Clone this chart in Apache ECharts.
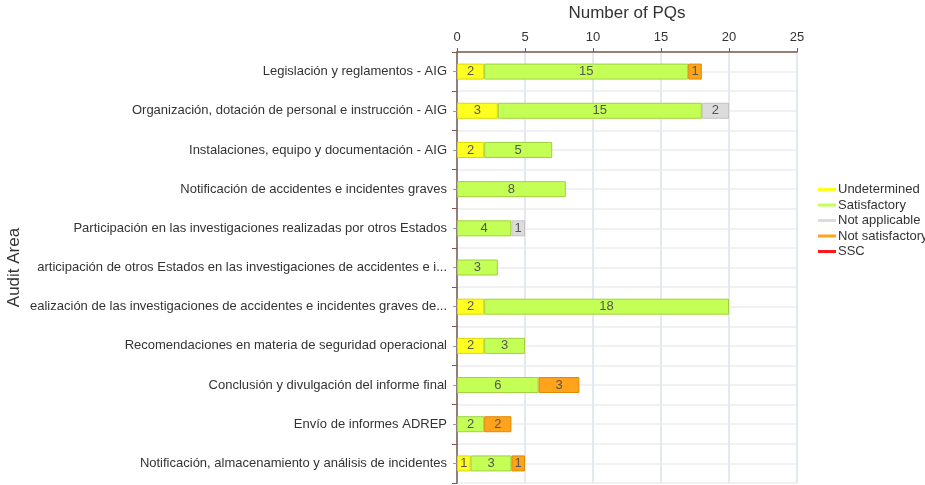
<!DOCTYPE html>
<html>
<head>
<meta charset="utf-8">
<script src="https://cdn.jsdelivr.net/npm/echarts@6/dist/echarts.min.js"></script>
<style>
html, body { margin: 0; padding: 0; background: #fff; }
#root { width: 925px; height: 485px; }
</style>
</head>
<body>
<div id="root"></div>
<script>
var areas = [
    'Legislación y reglamentos - AIG',
    'Organización, dotación de personal e instrucción - AIG',
    'Instalaciones, equipo y documentación - AIG',
    'Notificación de accidentes e incidentes graves',
    'Participación en las investigaciones realizadas por otros Estados',
    'articipación de otros Estados en las investigaciones de accidentes e i...',
    'ealización de las investigaciones de accidentes e incidentes graves de...',
    'Recomendaciones en materia de seguridad operacional',
    'Conclusión y divulgación del informe final',
    'Envío de informes ADREP',
    'Notificación, almacenamiento y análisis de incidentes'
];
var undetermined = [2, 3, 2, null, null, null, 2, 2, null, null, 1];
var satisfactory = [15, 15, 5, 8, 4, 3, 18, 3, 6, 2, 3];
var notApplicable = [null, 2, null, null, 1, null, null, null, null, null, null];
var notSatisfactory = [1, null, null, null, null, null, null, null, 3, 2, 1];
var ssc = [null, null, null, null, null, null, null, null, null, null, null];
var xTicks = [0, 25, 5];

var font = 'Liberation Sans, Arial, sans-serif';

function makeSeries(name, data, color, border) {
    return {
        name: name,
        type: 'bar',
        stack: 'pq',
        data: data,
        barWidth: 16,
        itemStyle: { color: color, borderColor: border, borderWidth: 1 },
        label: {
            show: true,
            position: 'inside',
            color: '#555',
            fontSize: 13,
            fontFamily: font
        }
    };
}

var chart = echarts.init(document.getElementById('root'));
var option = {
    animation: false,
    textStyle: { fontFamily: font },
    grid: { left: 457, right: 128, top: 52, bottom: 2, outerBoundsMode: 'none', containLabel: false },
    legend: {
        orient: 'vertical',
        left: 813,
        top: 178,
        itemWidth: 18,
        itemHeight: 13,
        itemGap: 2.5,
        icon: 'path://M0,5 L18,5 L18,8 L0,8 Z',
        itemStyle: { borderWidth: 0 },
        textStyle: { color: '#333', fontSize: 13, fontFamily: font, padding: [0, 0, 0, -3] },
        data: ['Undetermined', 'Satisfactory', 'Not applicable', 'Not satisfactory', 'SSC']
    },
    xAxis: {
        type: 'value',
        position: 'top',
        min: xTicks[0],
        max: xTicks[1],
        interval: xTicks[2],
        name: 'Number of PQs',
        nameLocation: 'middle',
        nameGap: 30,
        nameTextStyle: { color: '#333', fontSize: 17, fontFamily: font },
        axisLine: { show: true, lineStyle: { color: '#7a5a50', width: 1.5 } },
        axisTick: { show: true, length: 4, lineStyle: { color: '#7a5a50' } },
        axisLabel: { color: '#333', fontSize: 13, margin: 8 },
        splitLine: { show: true, lineStyle: { color: '#e4e9ef', width: 2 } }
    },
    yAxis: [{
        type: 'category',
        inverse: true,
        data: areas,
        name: 'Audit Area',
        nameLocation: 'middle',
        nameGap: 434,
        nameRotate: 90,
        nameTextStyle: { color: '#333', fontSize: 17, fontFamily: font },
        axisLine: { show: true, lineStyle: { color: '#7a5a50', width: 1.5 } },
        axisTick: { show: true, length: 5, lineStyle: { color: '#7a5a50' } },
        axisLabel: { color: '#333', fontSize: 13, margin: 10 },
        splitLine: { show: false }
    }, {
        type: 'category',
        inverse: true,
        data: areas,
        position: 'left',
        axisLine: { show: false },
        axisTick: { show: true, alignWithLabel: true, length: 4, lineStyle: { color: '#999' } },
        axisLabel: { show: false },
        splitLine: { show: false }
    }, {
        // half-row guide lines only
        type: 'value',
        inverse: true,
        min: 0,
        max: areas.length * 2,
        interval: 1,
        axisLine: { show: false },
        axisTick: { show: false },
        axisLabel: { show: false },
        splitLine: { show: true, lineStyle: { color: '#f1f1f1', width: 2 } }
    }],
    series: [
        makeSeries('Undetermined', undetermined, '#ffff1f', '#d8d800'),
        makeSeries('Satisfactory', satisfactory, '#c4ff55', '#a0d040'),
        makeSeries('Not applicable', notApplicable, '#dcdcdc', '#c4c4c4'),
        makeSeries('Not satisfactory', notSatisfactory, '#ffa31a', '#e08a00'),
        makeSeries('SSC', ssc, '#ff1a1a', '#d00000')
    ]
};
chart.setOption(option);
</script>
</body>
</html>
